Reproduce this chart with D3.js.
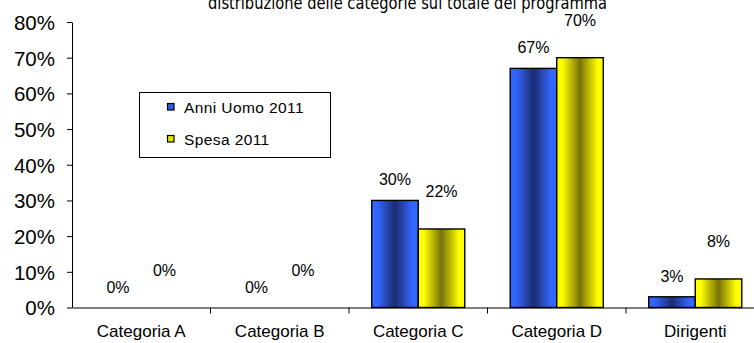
<!DOCTYPE html>
<html>
<head>
<meta charset="utf-8">
<script src="https://cdn.jsdelivr.net/npm/d3@7"></script>
<style>
  html, body { margin: 0; padding: 0; background: #ffffff; overflow: hidden; }
  svg { display: block; }
</style>
</head>
<body>
<svg id="chart" width="754" height="343"></svg>
<script>
// Data
const categories = ["Categoria A", "Categoria B", "Categoria C", "Categoria D", "Dirigenti"];
const anniUomo2011 = [0, 0, 30, 67, 3];
const spesa2011 = [0, 0, 22, 70, 8];
const seriesNames = ["Anni Uomo 2011", "Spesa 2011"];
const yTicks = [0, 10, 20, 30, 40, 50, 60, 70, 80];
const titleText = "distribuzione delle categorie sul totale del programma";

const svg = d3.select("#chart");
const plot = { left: 72, right: 764.5, top: 22, bottom: 307.5 };

const x = d3.scaleBand().domain(categories).range([plot.left, plot.right]).paddingInner(0).paddingOuter(0);
const barW = x.bandwidth() * 0.336;
const y = d3.scaleLinear().domain([0, 80]).range([plot.bottom, plot.top]);

// Horizontal shaded fills: bright at the edges, dark in the middle
const defs = svg.append("defs");
function shade(id, edge, mid) {
  const g = defs.append("linearGradient").attr("id", id)
    .attr("x1", "0%").attr("x2", "100%").attr("y1", "0%").attr("y2", "0%");
  g.append("stop").attr("offset", "0%").attr("stop-color", edge);
  g.append("stop").attr("offset", "12%").attr("stop-color", edge);
  g.append("stop").attr("offset", "50%").attr("stop-color", mid);
  g.append("stop").attr("offset", "88%").attr("stop-color", edge);
  g.append("stop").attr("offset", "100%").attr("stop-color", edge);
}
shade("gBlue", "#3366ff", "#1c2c70");
shade("gYellow", "#ffff00", "#77720a");

const series = [
  { name: seriesNames[0], values: anniUomo2011, fill: "url(#gBlue)", swatch: "#2f5be6", offset: 0, labelGap: 15 },
  { name: seriesNames[1], values: spesa2011, fill: "url(#gYellow)", swatch: "#e6e600", offset: 1, labelGap: 32 }
];

// Title (partly above the top edge), condensed to its box width
svg.append("text")
  .attr("x", 208).attr("y", 9)
  .attr("font-family", "DejaVu Sans, Verdana, sans-serif")
  .attr("font-size", 18)
  .attr("textLength", 399)
  .attr("lengthAdjust", "spacingAndGlyphs")
  .attr("fill", "#000")
  .text(titleText);

// Y axis
const yAxis = d3.axisLeft(y).tickValues(yTicks).tickFormat(d => d + "%").tickSize(5).tickSizeOuter(0);
const yg = svg.append("g").attr("transform", `translate(${plot.left},0)`).call(yAxis);
yg.select(".domain").attr("stroke", "#000").attr("stroke-width", 1);
yg.selectAll(".tick line").attr("stroke", "#000");
yg.selectAll(".tick text")
  .attr("font-family", "Liberation Sans, Arial, sans-serif")
  .attr("font-size", 20.5)
  .attr("fill", "#000")
  .attr("x", -17)
  .attr("dy", "0.36em");

// Bars
categories.forEach((c, i) => {
  series.forEach(s => {
    const v = s.values[i];
    const x0 = x(c) + x.bandwidth() / 2 - barW + s.offset * barW;
    if (v > 0) {
      svg.append("rect")
        .attr("x", x0).attr("y", y(v))
        .attr("width", barW).attr("height", y(0) - y(v))
        .attr("fill", s.fill)
        .attr("stroke", "#000").attr("stroke-width", 1.4);
    }
    svg.append("text")
      .attr("x", x0 + barW / 2)
      .attr("y", y(v) - s.labelGap)
      .attr("text-anchor", "middle")
      .attr("font-family", "Liberation Sans, Arial, sans-serif")
      .attr("font-size", 16)
      .attr("fill", "#000")
      .text(v + "%");
  });
});

// X axis
const xAxis = d3.axisBottom(x).tickSize(0).tickSizeOuter(0);
const xg = svg.append("g").attr("transform", `translate(0,${plot.bottom})`).call(xAxis);
xg.select(".domain").attr("stroke", "#000").attr("stroke-width", 1);
xg.selectAll(".tick text")
  .attr("font-family", "Liberation Sans, Arial, sans-serif")
  .attr("font-size", 17)
  .attr("fill", "#000")
  .attr("y", 17)
  .attr("dy", "0.71em");
// Category separators
xg.selectAll(".sep").data(categories.slice(1)).enter().append("line")
  .attr("class", "sep")
  .attr("x1", d => x(d)).attr("x2", d => x(d))
  .attr("y1", 0).attr("y2", 6)
  .attr("stroke", "#000");

// Legend
const lg = svg.append("g");
lg.append("rect")
  .attr("x", 139.5).attr("y", 92.5).attr("width", 191).attr("height", 65)
  .attr("fill", "#fff").attr("stroke", "#000").attr("stroke-width", 1);
series.forEach((s, k) => {
  const ly = 103 + k * 32;
  lg.append("rect")
    .attr("x", 167.5).attr("y", ly + 0.5).attr("width", 6.5).attr("height", 6.5)
    .attr("fill", s.swatch).attr("stroke", "#000").attr("stroke-width", 1.2);
  lg.append("text")
    .attr("x", 184).attr("y", ly + 10)
    .attr("font-family", "Liberation Sans, Arial, sans-serif")
    .attr("font-size", 15.5)
    .attr("letter-spacing", 0.4)
    .attr("fill", "#000")
    .text(s.name);
});
</script>
</body>
</html>
